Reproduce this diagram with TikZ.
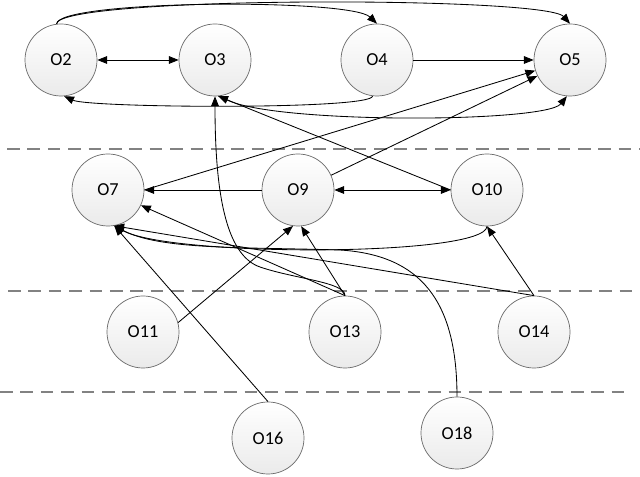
\documentclass[tikz,border=0pt]{standalone}
\usepackage{fontspec}
\setmainfont{Carlito}
\usepackage{tikz}
\usetikzlibrary{arrows.meta}
\definecolor{objEdge}{RGB}{105,105,105}
\definecolor{laneGray}{RGB}{130,130,130}
\colorlet{objTop}{white}
\colorlet{objBottom}{gray!16}
\tikzset{
    object/.style={circle, draw=objEdge, line width=0.5pt, top color=objTop, bottom color=objBottom,
        minimum size=1.8cm, inner sep=0pt, font=\fontsize{13}{15}\selectfont},
    link/.style={line width=0.6pt, -{Triangle[length=7pt,width=5.5pt]}},
    twoway/.style={line width=0.6pt, {Triangle[length=7pt,width=5.5pt]}-{Triangle[length=7pt,width=5.5pt]}},
    lane/.style={draw=laneGray, line width=1.1pt, dash pattern=on 9pt off 5.5pt}
}

\begin{document}
\begin{tikzpicture}[x=0.025cm, y=-0.025cm]
    \useasboundingbox (0,0) rectangle (640,477);

    % Draw the dashed lines between the levels
    \draw[lane] (7,149) -- (640,149);
    \draw[lane] (8,291) -- (636,291);
    \draw[lane] (0,392) -- (630,392);

    % Place the objects of each level
    \node[object] (O2) at (61,60) {O2};
    \node[object] (O3) at (215,60) {O3};
    \node[object] (O4) at (377,60) {O4};
    \node[object] (O5) at (570,60) {O5};
    \node[object] (O7) at (108,190) {O7};
    \node[object] (O9) at (298,190) {O9};
    \node[object] (O10) at (487,190) {O10};
    \node[object] (O11) at (143,332) {O11};
    \node[object] (O13) at (345,332) {O13};
    \node[object] (O14) at (534,332) {O14};
    \node[object] (O16) at (268,438) {O16};
    \node[object] (O18) at (457,433) {O18};

    % Draw the links of the top level
    \draw[twoway] (O2) -- (O3);
    \draw[link] (O4) -- (O5);
    \draw[link] (O2.97) .. controls (58,0) and (350,-2) .. (O4.north);
    \draw[link] (O2.97) .. controls (58,-4) and (545,-4) .. (O5.north);
    \draw[link] (O4.-97) .. controls (372,110) and (90,108) .. (O2.-85);
    \draw[link] (O3.-80) .. controls (245,124) and (545,124) .. (O5.-95);

    % Draw the links of the middle level
    \draw[link] (O9) -- (O7);
    \draw[twoway] (O9) -- (O10);
    \draw[link] (O7.east) -- (O5.197);
    \draw[link] (O9.24) -- (O5.206);
    \draw[link] (O10.west) -- (O3.-85);
    \draw[link] (O10.south) .. controls (485,257) and (170,257) .. (O7.-80);

    % Draw the links from the lower levels
    \draw[link] (O13.north) .. controls (345,282) and (295,279) .. (260,267)
        .. controls (225,255) and (215,190) .. (O3.south);
    \draw[link] (O13.north) -- (O9.-85);
    \draw[link] (O13.north) -- (O7.-25);
    \draw[link] (O11.15) -- (O9.-98);
    \draw[link] (O14.north) -- (O10.south);
    \draw[link] (O14.north) -- (O7.-80);
    \draw[link] (O16.north) -- (O7.-80);
    \draw[link] (O18.north) .. controls (457,300) and (420,255) .. (340,250)
        .. controls (240,247) and (160,250) .. (O7.-80);
\end{tikzpicture}
\end{document}
